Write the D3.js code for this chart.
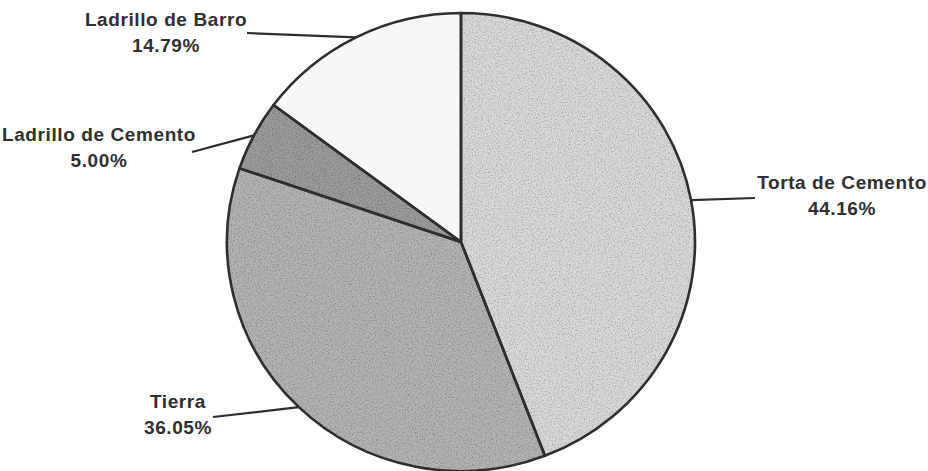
<!DOCTYPE html>
<html>
<head>
<meta charset="utf-8">
<script src="https://cdn.jsdelivr.net/npm/d3@7"></script>
<style>
  html, body { margin: 0; padding: 0; background: #fff; }
  svg { display: block; }
  .lbl { font-family: "Liberation Sans", Arial, sans-serif; font-weight: bold; font-size: 19px; letter-spacing: 0.6px; fill: #2f2f2f; }
</style>
</head>
<body>
<svg id="chart" width="928" height="471"></svg>
<script>
// data
const categories = ["Torta de Cemento", "Tierra", "Ladrillo de Cemento", "Ladrillo de Barro"];
const values = [44.16, 36.05, 5.00, 14.79];
const colors = ["#d9d9d9", "#b3b3b3", "#9b9b9b", "#f7f7f7"];

// where each label sits (label centre x, first baseline y)
const labelPos = [[842, 189], [178, 408], [99, 141], [166, 26]];
const leaderEnd = [[755, 198], [213, 417], [192, 152], [247, 33]];

const W = 928, H = 471;
const cx = 461, cy = 242;
const rx = 234, ry = 229;

const svg = d3.select("#chart");

// grainy scan look
const defs = svg.append("defs");
const f = defs.append("filter").attr("id", "grain")
    .attr("x", 0).attr("y", 0).attr("width", 1).attr("height", 1);
f.append("feTurbulence").attr("type", "fractalNoise")
    .attr("baseFrequency", 0.7).attr("numOctaves", 2).attr("seed", 3).attr("result", "n");
f.append("feColorMatrix").attr("in", "n").attr("type", "matrix")
    .attr("values", "0 0 0 0 0  0 0 0 0 0  0 0 0 0 0  0 0 0 -1.1 0.62")
    .attr("result", "a");
f.append("feComposite").attr("in", "a").attr("in2", "SourceGraphic").attr("operator", "in").attr("result", "g");
f.append("feMerge").selectAll("feMergeNode").data(["SourceGraphic", "g"]).enter()
  .append("feMergeNode").attr("in", d => d);

const data = categories.map((c, i) => ({ name: c, value: values[i], color: colors[i] }));

const pie = d3.pie().sort(null).value(d => d.value);
const arcs = pie(data);

const arc = d3.arc().innerRadius(0).outerRadius(rx);

const g = svg.append("g")
    .attr("transform", `translate(${cx},${cy}) scale(1,${ry / rx})`);

g.selectAll("path.slice")
  .data(arcs).enter()
  .append("path")
    .attr("class", "slice")
    .attr("d", arc)
    .attr("fill", d => d.data.color)
    .attr("filter", (d, i) => i == 3 ? null : "url(#grain)");

g.selectAll("path.edge")
  .data(arcs).enter()
  .append("path")
    .attr("class", "edge")
    .attr("d", arc)
    .attr("fill", "none")
    .attr("stroke", "#2e2e2e")
    .attr("stroke-width", 2.6)
    .attr("stroke-linejoin", "round");

// leader lines from the middle of each arc
const mid = d => (d.startAngle + d.endAngle) / 2;
svg.selectAll("line.leader")
  .data(arcs).enter()
  .append("line")
    .attr("class", "leader")
    .attr("x1", d => cx + rx * Math.sin(mid(d)))
    .attr("y1", d => cy - ry * Math.cos(mid(d)))
    .attr("x2", (d, i) => leaderEnd[i][0])
    .attr("y2", (d, i) => leaderEnd[i][1])
    .attr("stroke", "#2e2e2e")
    .attr("stroke-width", 2.2);

const labels = svg.selectAll("text.lbl")
  .data(arcs).enter()
  .append("text")
    .attr("class", "lbl")
    .attr("text-anchor", "middle")
    .attr("x", (d, i) => labelPos[i][0])
    .attr("y", (d, i) => labelPos[i][1]);

labels.append("tspan").text(d => d.data.name);
labels.append("tspan")
    .attr("x", (d, i) => labelPos[i][0])
    .attr("dy", 26)
    .text(d => d.data.value.toFixed(2) + "%");
</script>
</body>
</html>
